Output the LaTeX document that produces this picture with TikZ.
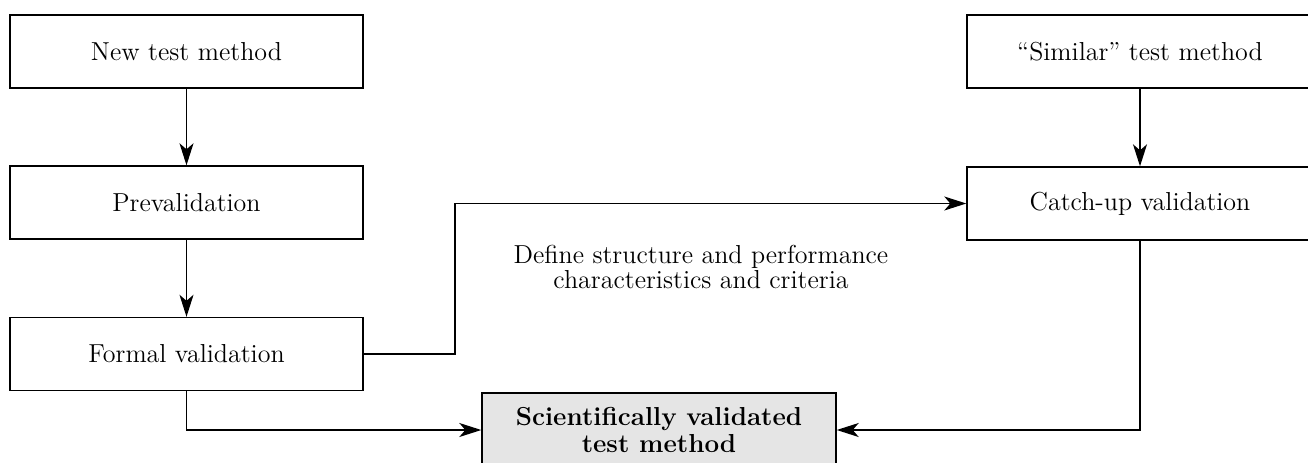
\documentclass[tikz,border=0pt]{standalone}
\usetikzlibrary{arrows.meta}
\begin{document}
\begin{tikzpicture}[x=0.5pt,y=-0.5pt,
  box/.style={draw, line width=0.7pt, minimum width=176.5pt, minimum height=36.5pt, inner sep=0pt, align=center, font=\fontsize{13}{13}\selectfont},
  res/.style={box, fill=black!10, minimum width=177pt, minimum height=37pt, font=\fontsize{13}{13.5}\selectfont\bfseries},
  conn/.style={line width=0.7pt, -{Stealth[length=11pt,width=7pt,inset=3pt]}},
  lbl/.style={align=center, font=\fontsize{13}{12.5}\selectfont}]
\useasboundingbox (0,0) rectangle (1308,462);
\node[box] (ntm) at (186.5,51.5) {New test method};
\node[box] (pre) at (186.5,202.5) {Prevalidation};
\node[box] (fv) at (186.5,354) {Formal validation};
\node[box, minimum width=173pt] (sim) at (1140,51.5) {``Similar'' test method};
\node[box, minimum width=173pt] (cu) at (1140,203.5) {Catch-up validation};
\node[res] (svt) at (659,430) {Scientifically validated\\test method};
\coordinate (mid) at (455,354);
\draw[conn] (ntm) -- (pre);
\draw[conn] (pre) -- (fv);
\draw[conn] (sim) -- (cu);
\draw[conn] (fv.east) -- (mid) |- (cu.west);
\draw[conn] (fv.south) |- (svt.west);
\draw[conn] (cu.south) |- (svt.east);
\node[lbl] (lab) at (701,267) {Define structure and performance\\characteristics and criteria};
\end{tikzpicture}
\end{document}
